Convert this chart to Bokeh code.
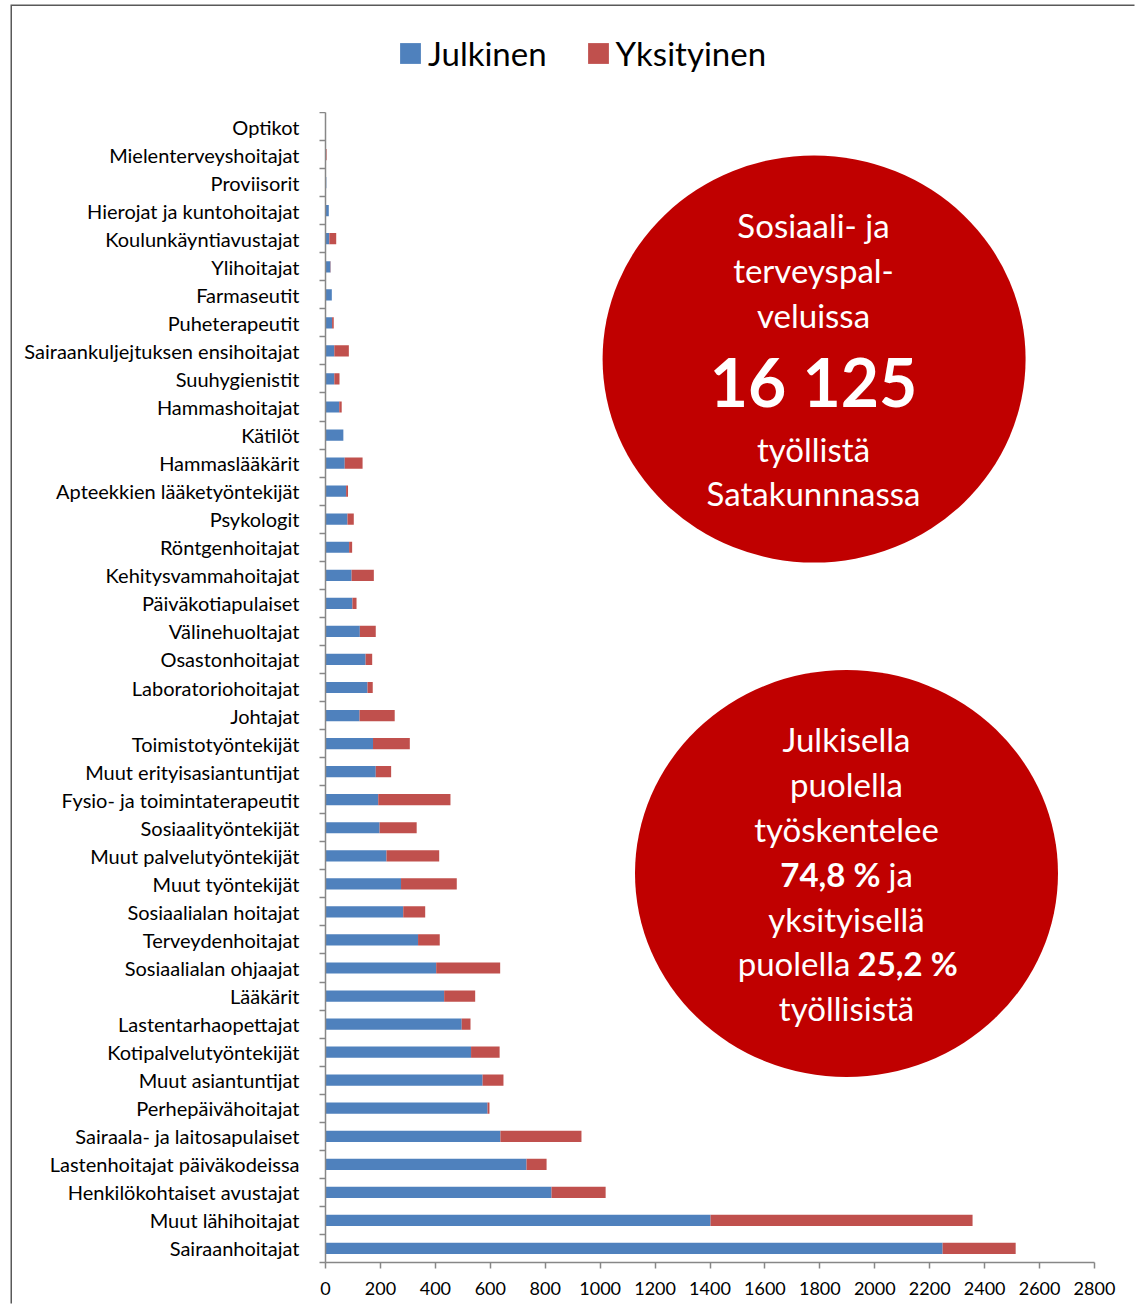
from bokeh.plotting import figure
from bokeh.layouts import column
from bokeh.models import (ColumnDataSource, Range1d, FixedTicker, Label,
                          Legend, LegendItem)
from bokeh.embed import file_html
from bokeh.resources import INLINE

# ---- data (top to bottom as shown) ----
categories = [
    "Optikot", "Mielenterveyshoitajat", "Proviisorit", "Hierojat ja kuntohoitajat",
    "Koulunkäyntiavustajat", "Ylihoitajat", "Farmaseutit", "Puheterapeutit",
    "Sairaankuljejtuksen ensihoitajat", "Suuhygienistit", "Hammashoitajat", "Kätilöt",
    "Hammaslääkärit", "Apteekkien lääketyöntekijät", "Psykologit", "Röntgenhoitajat",
    "Kehitysvammahoitajat", "Päiväkotiapulaiset", "Välinehuoltajat", "Osastonhoitajat",
    "Laboratoriohoitajat", "Johtajat", "Toimistotyöntekijät", "Muut erityisasiantuntijat",
    "Fysio- ja toimintaterapeutit", "Sosiaalityöntekijät", "Muut palvelutyöntekijät",
    "Muut työntekijät", "Sosiaalialan hoitajat", "Terveydenhoitajat",
    "Sosiaalialan ohjaajat", "Lääkärit", "Lastentarhaopettajat", "Kotipalvelutyöntekijät",
    "Muut asiantuntijat", "Perhepäivähoitajat", "Sairaala- ja laitosapulaiset",
    "Lastenhoitajat päiväkodeissa", "Henkilökohtaiset avustajat", "Muut lähihoitajat",
    "Sairaanhoitajat",
]
julkinen = [
    1, 1, 3, 12, 14, 18, 23, 24, 32, 32, 50, 65,
    70, 75, 80, 86, 95, 98, 125, 146, 153, 124, 173, 183,
    192, 197, 222, 275, 283, 337, 403, 432, 496, 530,
    572, 590, 637, 732, 823, 1402, 2247,
]
yksityinen = [
    0, 3, 0, 0, 25, 1, 0, 6, 53, 19, 9, 0,
    65, 7, 23, 11, 81, 15, 58, 24, 19, 128, 134, 56,
    263, 135, 192, 203, 80, 79, 233, 113, 32, 104,
    76, 7, 295, 73, 197, 954, 266,
]
x_ticks = list(range(0, 2801, 200))
legend_labels = ["Julkinen", "Yksityinen"]
colors = ["#4F81BD", "#C0504D"]

n = len(categories)
ypos = [n - i - 0.5 for i in range(n)]
source = ColumnDataSource(dict(y=ypos, cat=categories, Julkinen=julkinen, Yksityinen=yksityinen))

FONT = "Lato"
AX = "#878787"
W = 1124

# ---------- legend strip (top) ----------
top = figure(width=W, height=106, output_backend="svg", toolbar_location=None,
             x_range=Range1d(0, 1), y_range=Range1d(-100, -99),
             x_axis_type=None, y_axis_type=None,
             min_border_left=0, min_border_right=0, min_border_top=0, min_border_bottom=0)
top.outline_line_color = None
top.xgrid.visible = False
top.ygrid.visible = False
top.border_fill_color = "white"
lr = top.hbar_stack(legend_labels, y="y", height=0.4, color=colors, line_color=None,
                    source=source)
for r in lr:
    r.visible = False   # only used for the legend swatches
leg = Legend(items=[LegendItem(label=l, renderers=[r]) for l, r in zip(legend_labels, lr)],
             orientation="horizontal", location=(72, 39), padding=0, margin=0,
             spacing=38, label_standoff=5, glyph_width=26, glyph_height=26,
             label_text_font=FONT, label_text_font_size="33px",
             label_text_color="black", border_line_color=None,
             background_fill_alpha=0, inactive_fill_alpha=0)
top.add_layout(leg, "center")

# ---------- main chart ----------
p = figure(width=W, height=1193, output_backend="svg", toolbar_location=None,
           x_range=Range1d(0, 2800), y_range=Range1d(0, n),
           min_border_left=313, min_border_right=42, min_border_top=0,
           min_border_bottom=43)
p.outline_line_color = None
p.xgrid.visible = False
p.ygrid.visible = False
p.background_fill_color = "white"
p.border_fill_color = "white"

rs = p.hbar_stack(legend_labels, y="y", height=0.4, color=colors, line_color=None,
                  source=source)

# x axis
xa = p.xaxis[0]
xa.ticker = FixedTicker(ticks=x_ticks)
xa.major_tick_out = 6
xa.major_tick_in = 0
xa.minor_tick_out = 0
xa.minor_tick_in = 0
xa.axis_line_color = AX
xa.axis_line_width = 1.5
xa.major_tick_line_color = AX
xa.major_tick_line_width = 1.5
xa.major_label_text_font = FONT
xa.major_label_text_font_size = "18px"
xa.major_label_text_color = "black"
xa.major_label_standoff = 13

# y axis
ya = p.yaxis[0]
ya.ticker = FixedTicker(ticks=ypos, minor_ticks=list(range(0, n + 1)))
ya.major_label_overrides = {float(v): c for v, c in zip(ypos, categories)}
ya.major_tick_out = 0
ya.major_tick_in = 0
ya.minor_tick_out = 6
ya.minor_tick_in = 0
ya.minor_tick_line_color = AX
ya.minor_tick_line_width = 1.5
ya.axis_line_color = AX
ya.axis_line_width = 1.5
ya.major_label_text_font = FONT
ya.major_label_text_font_size = "20px"
ya.major_label_text_color = "black"
ya.major_label_standoff = 20

# red info circles
RED = "#C00000"
p.ellipse(x=[1779, 1897], y=[32.21, 13.87], width=423, height=407,
          width_units="screen", height_units="screen",
          fill_color=RED, line_color=None)

FB = 1262  # frame bottom in page coordinates
FL = 325   # frame left in page coordinates


def lab(text, px, py, size="33px", bold=False, align="center"):
    p.add_layout(Label(x=px - FL, y=FB - py, x_units="screen", y_units="screen",
                       text=text, text_color="white", text_font=FONT,
                       text_font_size=size, text_font_style="bold" if bold else "normal",
                       text_align=align, text_baseline="middle"))


c1 = 813
lab("Sosiaali- ja", c1, 224)
lab("terveyspal-", c1, 269)
lab("veluissa", c1, 314)
lab("16 125", c1, 381, size="66px", bold=True)
lab("työllistä", c1, 448)
lab("Satakunnnassa", c1, 492)

c2 = 846
lab("Julkisella", c2, 738)
lab("puolella", c2, 783)
lab("työskentelee", c2, 828)
lab("74,8 %", 880, 873, bold=True, align="right")
lab("ja", 888, 873, align="left")
lab("yksityisellä", c2, 918)
lab("puolella", 850, 962, align="right")
lab("25,2 %", 857, 962, bold=True, align="left")
lab("työllisistä", c2, 1007)

layout = column(top, p, spacing=0)
# chart-area frame: thin dark line along the left and top edges
layout.styles = {"margin-left": "12px", "margin-top": "6px",
                 "box-shadow": "-1.5px -1.5px 0 0 #595959"}

open("out.html", "w").write(file_html(layout, INLINE))
